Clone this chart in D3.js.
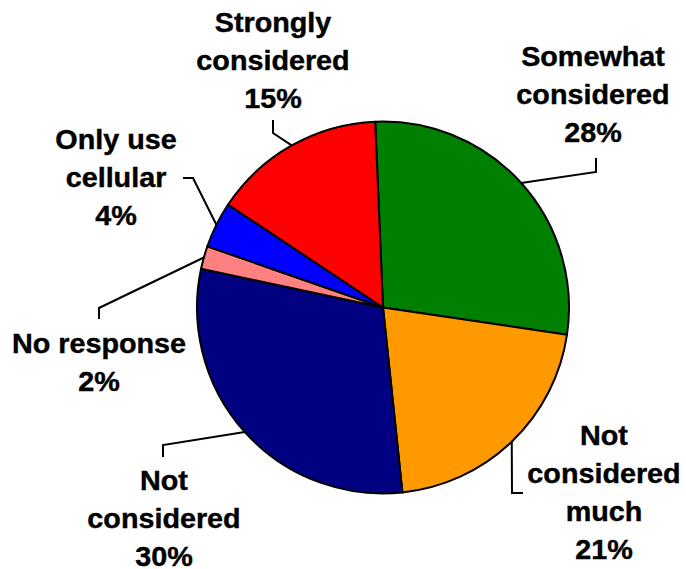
<!DOCTYPE html>
<html>
<head>
<meta charset="utf-8">
<script src="https://cdn.jsdelivr.net/npm/d3@7"></script>
<style>
  html, body { margin: 0; padding: 0; background: #fff; }
  svg { display: block; }
  text { font-family: "Liberation Sans", Arial, sans-serif; font-weight: bold; fill: #000; stroke: #000; stroke-width: 0.4px; }
</style>
</head>
<body>
<svg id="chart" width="686" height="569"></svg>
<script>
// Survey answer shares (percent), clockwise from the top.
const categories = [
  "Somewhat considered",
  "Not considered much",
  "Not considered",
  "No response",
  "Only use cellular",
  "Strongly considered"
];
const values = [28, 21, 30, 2, 4, 15];
const colors = ["#008000", "#FF9900", "#000080", "#FF8080", "#0000FF", "#FF0000"];

// Label placement: text column centre, first baseline, line breaks, and leader bends.
const labelLayout = {
  "Somewhat considered": { x: 593, y: 66, lines: ["Somewhat", "considered"], bend: [[596, 172], [596, 158]] },
  "Not considered much": { x: 604, y: 445, lines: ["Not", "considered", "much"], bend: [[512, 493], [523, 493]] },
  "Not considered":      { x: 164, y: 490, lines: ["Not", "considered"], bend: [[163, 445], [163, 457]] },
  "No response":         { x: 99,  y: 353, lines: ["No response"], bend: [[99, 308], [99, 319]] },
  "Only use cellular":   { x: 116, y: 149, lines: ["Only use", "cellular"], bend: [[193, 178], [183, 178]] },
  "Strongly considered": { x: 273, y: 32,  lines: ["Strongly", "considered"], bend: [[273, 133], [273, 120]] }
};

const cx = 383, cy = 307.5, radius = 186;
const lineHeight = 38;
const fontSize = 27;
const stretchX = 1.065;   // slightly wide label lettering

const data = categories.map((c, i) => ({ category: c, value: values[i], color: colors[i] }));

const svg = d3.select("#chart");
const g = svg.append("g").attr("transform", `translate(${cx},${cy})`);

const startAngle = -2.4 * Math.PI / 180;
const pie = d3.pie()
  .value(d => d.value)
  .sort(null)
  .startAngle(startAngle)
  .endAngle(startAngle + 2 * Math.PI);

const arc = d3.arc().innerRadius(0).outerRadius(radius);
const arcs = pie(data);

g.selectAll("path.slice")
  .data(arcs)
  .join("path")
  .attr("class", "slice")
  .attr("d", arc)
  .attr("fill", d => d.data.color)
  .attr("stroke", "#000")
  .attr("stroke-width", 2)
  .attr("stroke-linejoin", "round");

// Leader lines from the slice's mid-angle on the rim to its label.
const line = d3.line();
svg.selectAll("path.leader")
  .data(arcs)
  .join("path")
  .attr("class", "leader")
  .attr("fill", "none")
  .attr("stroke", "#000")
  .attr("stroke-width", 2)
  .attr("d", d => {
    const mid = (d.startAngle + d.endAngle) / 2;
    const rim = [cx + radius * Math.sin(mid), cy - radius * Math.cos(mid)];
    return line([rim, ...labelLayout[d.data.category].bend]);
  });

// Labels: wrapped category name followed by the percentage.
const labels = svg.selectAll("text.label")
  .data(arcs)
  .join("text")
  .attr("class", "label")
  .attr("text-anchor", "middle")
  .attr("font-size", fontSize)
  .attr("transform", d => `translate(${labelLayout[d.data.category].x},0) scale(${stretchX},1)`);

labels.each(function (d) {
  const lay = labelLayout[d.data.category];
  const rows = [...lay.lines, `${d.data.value}%`];
  d3.select(this).selectAll("tspan")
    .data(rows)
    .join("tspan")
    .attr("x", 0)
    .attr("y", (r, i) => lay.y + i * lineHeight)
    .text(r => r);
});
</script>
</body>
</html>
